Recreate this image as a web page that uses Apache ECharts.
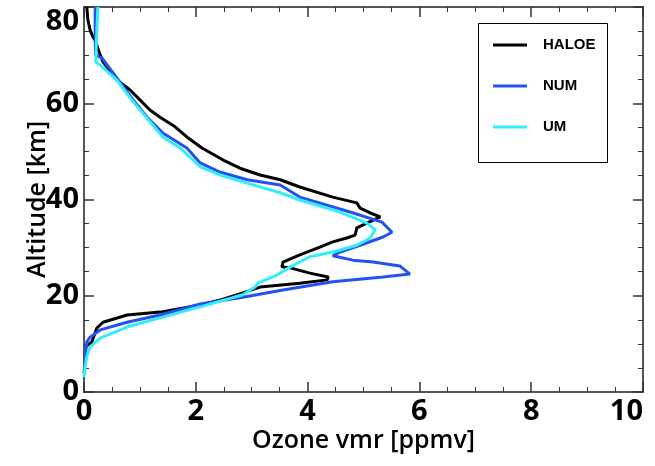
<!DOCTYPE html>
<html>
<head>
<meta charset="utf-8">
<script src="https://cdn.jsdelivr.net/npm/echarts@6/dist/echarts.min.js"></script>
<style>
  html, body { margin: 0; padding: 0; background: #fff; }
  #main { width: 655px; height: 466px; }
</style>
</head>
<body>
<div id="main"></div>
<script>
// ozone profiles: x = vmr [ppmv], y = altitude [km]
var haloeOzone = [0.05, 0.07, 0.11, 0.16, 0.20, 0.29, 0.34, 0.59, 0.82, 1.00, 1.18, 1.36, 1.63, 1.84, 2.11, 2.49, 2.79, 3.15, 3.51, 3.86, 4.45, 4.88, 4.94, 5.12, 5.30, 5.06, 4.88, 4.85, 4.70, 4.45, 4.22, 3.86, 3.56, 3.54, 3.69, 4.04, 4.37, 4.35, 3.86, 3.15, 2.84, 2.43, 2.08, 1.36, 0.77, 0.34, 0.23, 0.14, 0.07, 0.04];
var haloeAlt   = [80.0, 77.3, 75.2, 73.8, 73.1, 70.0, 68.6, 64.8, 62.8, 60.7, 58.6, 57.1, 55.1, 53.0, 50.7, 48.2, 46.5, 45.1, 44.1, 42.6, 40.5, 39.3, 38.2, 37.2, 36.4, 35.1, 34.1, 32.6, 32.0, 31.2, 30.1, 28.5, 27.0, 26.0, 25.8, 24.7, 23.9, 23.3, 22.6, 21.8, 20.6, 19.1, 18.1, 16.6, 16.0, 14.5, 13.3, 10.4, 9.8, 9.4];

var numOzone = [0.20, 0.20, 0.21, 0.32, 0.59, 0.88, 1.13, 1.41, 1.84, 2.08, 2.43, 2.92, 3.51, 3.86, 4.76, 5.33, 5.51, 5.35, 4.94, 4.58, 4.45, 4.81, 5.17, 5.65, 5.83, 5.35, 4.45, 3.56, 2.84, 2.08, 1.36, 0.77, 0.29, 0.11, 0.05, 0.02, 0.00];
var numAlt   = [80.0, 73.1, 70.0, 69.4, 65.2, 60.7, 57.1, 53.8, 50.7, 47.6, 45.7, 44.1, 43.0, 40.5, 37.4, 35.3, 33.2, 32.2, 30.5, 29.1, 28.3, 27.4, 27.0, 26.2, 24.5, 23.9, 22.9, 21.2, 19.7, 18.3, 16.0, 14.5, 12.9, 11.4, 10.4, 7.3, 3.9];

var umOzone = [0.25, 0.23, 0.21, 0.29, 0.59, 0.88, 1.13, 1.41, 1.72, 2.08, 2.43, 2.92, 3.51, 3.86, 4.58, 5.06, 5.21, 5.12, 4.88, 4.45, 4.04, 3.69, 3.45, 3.11, 3.06, 2.84, 2.08, 1.36, 0.77, 0.29, 0.11, 0.05, 0.02, 0.00];
var umAlt   = [80.0, 75.2, 68.6, 67.9, 64.8, 60.3, 56.9, 53.0, 50.7, 46.8, 45.1, 43.4, 41.4, 39.9, 37.4, 35.1, 33.7, 32.0, 30.5, 29.1, 28.1, 26.0, 24.3, 22.6, 21.8, 20.2, 17.7, 15.4, 13.5, 11.2, 9.4, 7.3, 5.2, 3.1];

var xTicks = [0, 10, 2];   // min, max, interval
var yTicks = [0, 80, 20];

function pairs(xs, ys) {
    var out = [];
    for (var i = 0; i < xs.length; i++) out.push([xs[i], ys[i]]);
    return out;
}

var myChart = echarts.init(document.getElementById('main'));

var lblFont = "'Open Sans', 'Noto Sans', sans-serif";
var axisCol = '#555';

function frameAxis(pos, t, withLabels, name) {
    var ax = {
        type: 'value',
        position: pos,
        min: t[0], max: t[1], interval: t[2],
        splitLine: { show: false },
        axisLine: { show: true, onZero: false, lineStyle: { color: axisCol, width: 2 } },
        axisTick: { show: true, inside: true, length: 10, lineStyle: { color: '#333', width: 1.5 } },
        minorTick: { show: true, splitNumber: 4, length: 5, lineStyle: { color: '#333', width: 1 } },
        axisLabel: { show: false }
    };
    if (withLabels) {
        ax.axisLabel = {
            show: true,
            color: '#000',
            fontFamily: lblFont,
            fontWeight: 'bold',
            fontSize: 29
        };
        ax.name = name;
        ax.nameLocation = 'middle';
        ax.nameMoveOverlap = false;
        ax.nameTextStyle = { color: '#000', fontFamily: lblFont, fontWeight: 600, fontSize: 25 };
    }
    return ax;
}

var xBottom = frameAxis('bottom', xTicks, true, 'Ozone vmr [ppmv]');
xBottom.nameGap = 36;
xBottom.axisLabel.margin = 5;
xBottom.axisLabel.alignMaxLabel = 'right';
var xTop = frameAxis('top', xTicks, false);

var yLeft = frameAxis('left', yTicks, true, 'Altitude [km]');
yLeft.nameGap = 34;
yLeft.axisLabel.margin = 5;
yLeft.axisLabel.verticalAlignMaxLabel = 'top';
var yRight = frameAxis('right', yTicks, false);

var option = {
    animation: false,
    backgroundColor: '#fff',
    grid: { left: 84, right: 12, top: 7, bottom: 74, containLabel: false },
    xAxis: [xBottom, xTop],
    yAxis: [yLeft, yRight],
    graphic: [{
        type: 'rect',
        left: 478, top: 23,
        shape: { width: 129, height: 139 },
        style: { fill: '#fff', stroke: '#000', lineWidth: 1 },
        z: 10
    }],
    legend: {
        orient: 'vertical',
        left: 493, top: 37,
        padding: 0,
        itemGap: 25,
        itemWidth: 34,
        itemHeight: 3,
        icon: 'rect',
        z: 20,
        textStyle: {
            color: '#000',
            fontFamily: "'Liberation Sans', Arial, sans-serif",
            fontWeight: 'bold',
            fontSize: 15,
            lineHeight: 16,
            padding: [0, 0, 0, 11]
        },
        data: ['HALOE', 'NUM', 'UM']
    },
    series: [
        {
            name: 'HALOE', type: 'line', symbol: 'none',
            data: pairs(haloeOzone, haloeAlt),
            itemStyle: { color: '#000' },
            lineStyle: { color: '#000', width: 3 }
        },
        {
            name: 'NUM', type: 'line', symbol: 'none',
            data: pairs(numOzone, numAlt),
            itemStyle: { color: '#2352f2' },
            lineStyle: { color: '#2352f2', width: 3 }
        },
        {
            name: 'UM', type: 'line', symbol: 'none',
            data: pairs(umOzone, umAlt),
            itemStyle: { color: '#33eefa' },
            lineStyle: { color: '#33eefa', width: 3 }
        }
    ]
};

myChart.setOption(option);
</script>
</body>
</html>
